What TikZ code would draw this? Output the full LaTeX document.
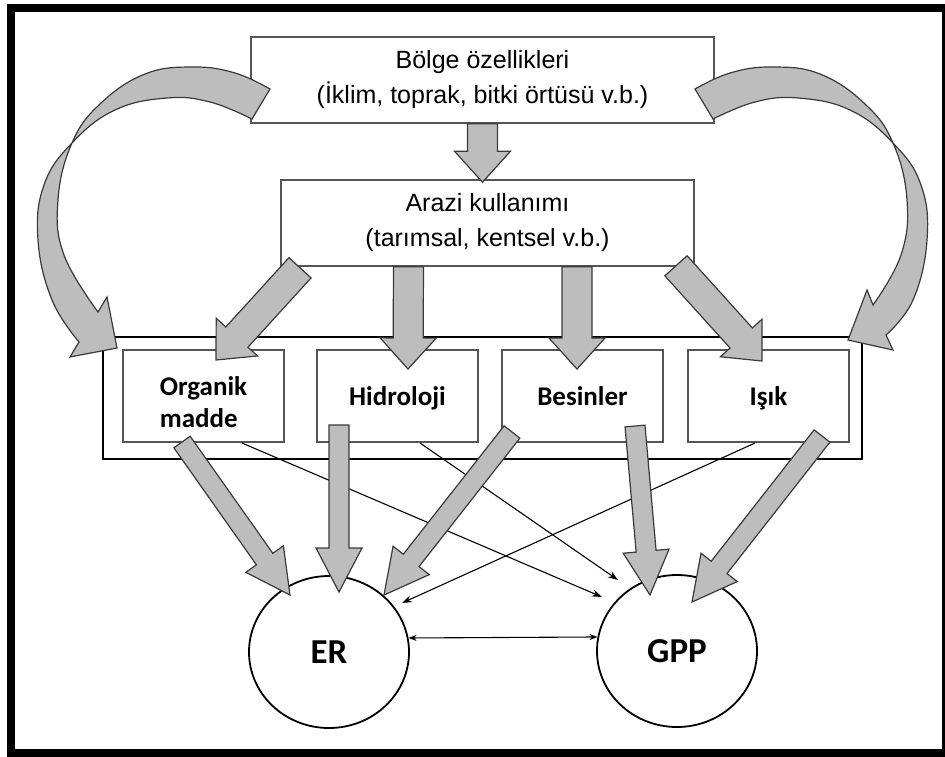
\documentclass[tikz,border=0pt]{standalone}
\usepackage{fontspec}
\usepackage{tikz}
\usetikzlibrary{shapes.geometric, arrows.meta, calc}
\newfontfamily\liberation{Liberation Sans}
\newfontfamily\carlito{Carlito}
\definecolor{okgri}{HTML}{BDBDBD}
\definecolor{okkenar}{HTML}{3A3A3A}
\definecolor{kenar}{HTML}{555555}

\begin{document}
\begin{tikzpicture}[x=1pt, y=-1pt,
    ustkutu/.style={draw=kenar, line width=1.6pt, minimum height=86pt, align=center, font=\liberation\fontsize{25}{35}\selectfont},
    altkutu/.style={draw=kenar, line width=2pt, minimum width=161pt, minimum height=92pt, text height=22pt, text depth=4pt, font=\carlito\bfseries\fontsize{27}{32}\selectfont},
    kap/.style={draw, line width=2.8pt, minimum width=759pt, minimum height=122pt},
    daire/.style={draw, ellipse, line width=1.8pt, minimum width=160pt, minimum height=152pt, font=\carlito\bfseries\fontsize{35}{40}\selectfont},
    okgovde/.style n args={3}{draw=okkenar, fill=okgri, line width=1.2pt,
        to path={($(\tikztostart)!#1!90:(\tikztotarget)$)
            -- ($(\tikztotarget)!#3!(\tikztostart)!#1!90:(\tikztotarget)$)
            -- ($(\tikztotarget)!#3!(\tikztostart)!#2!90:(\tikztotarget)$)
            -- (\tikztotarget)
            -- ($(\tikztotarget)!#3!(\tikztostart)!#2!-90:(\tikztotarget)$)
            -- ($(\tikztotarget)!#3!(\tikztostart)!#1!-90:(\tikztotarget)$)
            -- ($(\tikztostart)!#1!-90:(\tikztotarget)$) -- cycle}},
    kalinok/.style={okgovde={15pt}{28pt}{31pt}},
    ortaok/.style={okgovde={10pt}{23pt}{44pt}},
    egriok/.style={draw=okkenar, fill=okgri, line width=1.2pt},
    ince/.style={draw, line width=1.1pt, -{Stealth[length=10pt, width=7pt]}},
    cift/.style={draw, line width=1.1pt, {Stealth[length=8pt, width=6pt]}-{Stealth[length=8pt, width=6pt]}}
]
    \useasboundingbox (0,0) rectangle (945,756);
    \draw[line width=8pt] (11,7.5) rectangle (946,753);

    \node[ustkutu, minimum width=463pt] (bolge) at (482.5,80) {Bölge özellikleri\\(İklim, toprak, bitki örtüsü v.b.)};
    \node[ustkutu, minimum width=413pt] (arazi) at (487.5,223) {Arazi kullanımı\\(tarımsal, kentsel v.b.)};

    \node[kap] (kap) at (482.5,398) {};
    \node[altkutu, align=left, text height=66pt, text depth=4pt] (org) at (203.5,396) {Organik\\madde};
    \node[altkutu] (hid) at (397.5,396) {Hidroloji};
    \node[altkutu] (bes) at (582.5,396) {Besinler};
    \node[altkutu] (isik) at (768.5,396) {Işık};

    \node[daire] (er) at (329,652) {ER};
    \node[daire] (gpp) at (677,651) {GPP};

    % ince oklar
    \coordinate (t1) at ($(gpp)+(-75,-54)$);
    \coordinate (t2) at ($(gpp)+(-59,-71)$);
    \coordinate (t3) at ($(er)+(73,-49)$);
    \draw[ince] ([xshift=38.5pt]org.south) -- (t1);
    \draw[ince] ([xshift=22.5pt]hid.south) -- (t2);
    \draw[ince] ([xshift=-13.5pt]isik.south) -- (t3);
    \draw[cift] (er.10) -- (gpp.170);

    % kalin oklar
    \coordinate (a0) at ($(arazi.north)+(-5,3)$);
    \coordinate (a1) at ($(arazi.south)+(-187.5,1)$);
    \coordinate (a2) at ($(arazi.south)+(-79,0)$);
    \coordinate (a3) at ($(arazi.south)+(89.5,0)$);
    \coordinate (a4) at ($(arazi.south)+(188.5,-1)$);
    \coordinate (o0) at ($(org.north)+(12.5,11)$);
    \coordinate (h0) at ($(hid.north)+(10.5,20)$);
    \coordinate (s0) at ($(bes.north)+(-5.5,20)$);
    \coordinate (i0) at ($(isik.north)+(-6.5,12)$);
    \path[kalinok] (bolge.south) to (a0);
    \path[kalinok] (a1) to (o0);
    \path[kalinok] (a2) to (h0);
    \path[kalinok] (a3) to (s0);
    \path[kalinok] (a4) to (i0);

    \coordinate (o1) at ($(org.south)+(-21.5,-1)$);
    \coordinate (h1) at ($(hid.south)+(-58.5,-18)$);
    \coordinate (s1) at ($(bes.south)+(-70.5,-11)$);
    \coordinate (s2) at ($(bes.south)+(52.5,-17)$);
    \coordinate (i1) at ($(isik.south)+(53.5,-7)$);
    \coordinate (e1) at ($(er)+(-39,-57)$);
    \coordinate (e2) at ($(er)+(10,-60)$);
    \coordinate (e3) at ($(er)+(55,-57)$);
    \coordinate (g1) at ($(gpp)+(-27,-56)$);
    \coordinate (g2) at ($(gpp)+(15,-49)$);
    \path[ortaok] (o1) to (e1);
    \path[ortaok] (h1) to (e2);
    \path[ortaok] (s1) to (e3);
    \path[ortaok] (s2) to (g1);
    \path[ortaok] (i1) to (g2);

    % egri oklar
    \path[egriok] plot[smooth, tension=0.7] coordinates {(270,89) (235,73) (193,67) (145,74) (100,104) (72,143) (58,200) (64,255) (98,312)}
        -- (107,297) -- (117,348) -- (70,357)
        -- plot[smooth, tension=0.7] coordinates {(79,342) (52,300) (38,240) (44,185) (72,143) (115,110) (167,98) (210,102) (252,119)} -- cycle;
    \path[egriok] plot[smooth, tension=0.7] coordinates {(695,89) (730,73) (772,67) (820,74) (865,104) (893,143) (907,200) (901,255) (873,305)}
        -- (867,290) -- (848,340) -- (893,350)
        -- plot[smooth, tension=0.7] coordinates {(886,335) (913,300) (927,240) (921,185) (893,143) (850,110) (798,98) (755,102) (713,119)} -- cycle;
\end{tikzpicture}
\end{document}
